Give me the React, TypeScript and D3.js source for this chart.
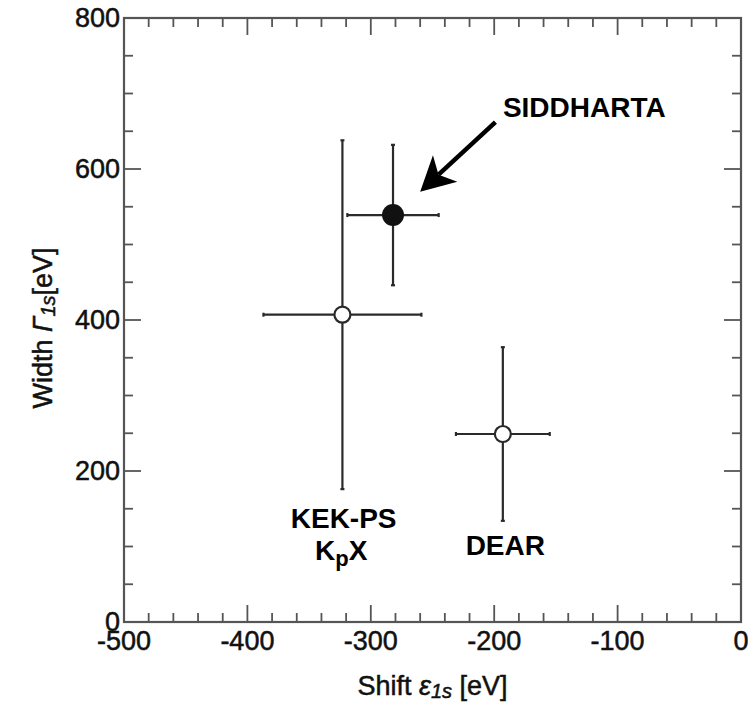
import * as d3 from "d3";

// measurements (shift ε1s, width Γ1s, symmetric errors)
const names = ["SIDDHARTA", "KEK-PS", "DEAR"];
const shifts = [-282, -323, -193];
const shiftErrs = [37, 64, 38];
const widths = [539, 407, 249];
const widthErrs = [93, 231, 115];
const filled = [true, false, false];

const xTicks = [-500, -400, -300, -200, -100, 0];
const yTicks = [0, 200, 400, 600, 800];

const W = 748;
const H = 705;
const FONT = "'Liberation Sans', Arial, Helvetica, sans-serif";

const x = d3.scaleLinear().domain([-500, 0]).range([124, 741]);
const y = d3.scaleLinear().domain([0, 800]).range([622, 18]);

const xMinor = d3.range(-500, 1, 20);
const yMinor = d3.range(0, 801, 50);

const arrow = { from: [-199, 662], to: [-260, 570] };

export default function App() {
  const [x0, x1] = x.range();
  const [y0, y1] = y.range();
  const stroke = "#2a2a2a";

  // arrow head
  const tx = x(arrow.to[0]);
  const ty = y(arrow.to[1]);
  const fx = x(arrow.from[0]);
  const fy = y(arrow.from[1]);
  const len = Math.hypot(fx - tx, fy - ty);
  const ux = (fx - tx) / len;
  const uy = (fy - ty) / len;
  const px = -uy;
  const py = ux;
  const headLen = 34;
  const headW = 18;
  const b1 = [tx + ux * headLen + px * headW, ty + uy * headLen + py * headW];
  const b2 = [tx + ux * headLen - px * headW, ty + uy * headLen - py * headW];
  const notch = [tx + ux * 25, ty + uy * 25];

  // slightly heavier text, the original looks like Helvetica medium
  const heavy = { stroke: "#111", strokeWidth: 0.5 };

  return (
    <div style={{ position: "absolute", left: 0, top: 0 }}>
      <svg width={W} height={H} style={{ display: "block", background: "#fff" }} fontFamily={FONT}>
        {/* ticks, all four sides, inward */}
        {xMinor.map((v) => {
          const l = v % 100 === 0 ? 17 : 9;
          return (
            <g key={"xm" + v} stroke="#555" strokeWidth={1.8}>
              <line x1={x(v)} x2={x(v)} y1={y0} y2={y0 - l} />
              <line x1={x(v)} x2={x(v)} y1={y1} y2={y1 + l} />
            </g>
          );
        })}
        {yMinor.map((v) => {
          const l = v % 200 === 0 ? 17 : 9;
          return (
            <g key={"ym" + v} stroke="#555" strokeWidth={1.8}>
              <line x1={x0} x2={x0 + l} y1={y(v)} y2={y(v)} />
              <line x1={x1} x2={x1 - l} y1={y(v)} y2={y(v)} />
            </g>
          );
        })}
        <rect x={x0} y={y1} width={x1 - x0} height={y0 - y1} fill="none" stroke="#555" strokeWidth={2.2} />

        {/* tick labels */}
        {xTicks.map((v) => (
          <text key={"xt" + v} x={x(v)} y={650} textAnchor="middle" fontSize={27} fill="#111" {...heavy}>
            {v}
          </text>
        ))}
        {yTicks.map((v) => (
          <text key={"yt" + v} x={120} y={y(v) + 9} textAnchor="end" fontSize={27} fill="#111" {...heavy}>
            {v}
          </text>
        ))}

        {/* axis titles */}
        <text x={(x0 + x1) / 2} y={695} textAnchor="middle" fontSize={27} fill="#111" {...heavy}>
          Shift{" "}
          <tspan fontStyle="italic">ε</tspan>
          <tspan fontStyle="italic" fontSize={20} dy={3}>1s</tspan>
          <tspan dy={-3}> [eV]</tspan>
        </text>
        <text
          transform={`translate(52, ${(y0 + y1) / 2 + 8}) rotate(-90)`}
          textAnchor="middle"
          fontSize={27}
          fill="#111"
          {...heavy}
        >
          Width <tspan fontStyle="italic">Γ</tspan>
          <tspan fontStyle="italic" fontSize={20} dy={3}>1s</tspan>
          <tspan dy={-3}>[eV]</tspan>
        </text>

        {/* error bars + points */}
        {names.map((n, i) => {
          const cx = x(shifts[i]);
          const cy = y(widths[i]);
          const xl = x(shifts[i] - shiftErrs[i]);
          const xr = x(shifts[i] + shiftErrs[i]);
          const yt = y(widths[i] + widthErrs[i]);
          const yb = y(widths[i] - widthErrs[i]);
          return (
            <g key={n}>
              <g stroke={stroke} strokeWidth={2.2}>
                <line x1={xl} x2={xr} y1={cy} y2={cy} />
                <line x1={cx} x2={cx} y1={yt} y2={yb} />
                <line x1={xl} x2={xl} y1={cy - 2} y2={cy + 2} />
                <line x1={xr} x2={xr} y1={cy - 2} y2={cy + 2} />
                <line x1={cx - 2} x2={cx + 2} y1={yt} y2={yt} />
                <line x1={cx - 2} x2={cx + 2} y1={yb} y2={yb} />
              </g>
              {filled[i] ? (
                <circle cx={cx} cy={cy} r={11} fill="#111" />
              ) : (
                <circle cx={cx} cy={cy} r={8} fill="#fff" stroke={stroke} strokeWidth={2.2} />
              )}
            </g>
          );
        })}

        {/* labels */}
        <text x={x(-127)} y={y(669)} textAnchor="middle" fontSize={28} fontWeight="bold" fill="#000">
          SIDDHARTA
        </text>
        <text x={x(-322)} y={y(124)} textAnchor="middle" fontSize={28} fontWeight="bold" fill="#000">
          KEK-PS
        </text>
        <text x={x(-324)} y={y(82)} textAnchor="middle" fontSize={28} fontWeight="bold" fill="#000">
          K<tspan fontSize={22} dy={6}>p</tspan>
          <tspan dy={-6}>X</tspan>
        </text>
        <text x={x(-191)} y={y(89)} textAnchor="middle" fontSize={28} fontWeight="bold" fill="#000">
          DEAR
        </text>

        {/* arrow */}
        <line x1={fx} y1={fy} x2={notch[0]} y2={notch[1]} stroke="#000" strokeWidth={4.5} />
        <path
          d={`M${tx},${ty} L${b1[0]},${b1[1]} L${notch[0]},${notch[1]} L${b2[0]},${b2[1]} Z`}
          fill="#000"
        />
      </svg>
    </div>
  );
}
